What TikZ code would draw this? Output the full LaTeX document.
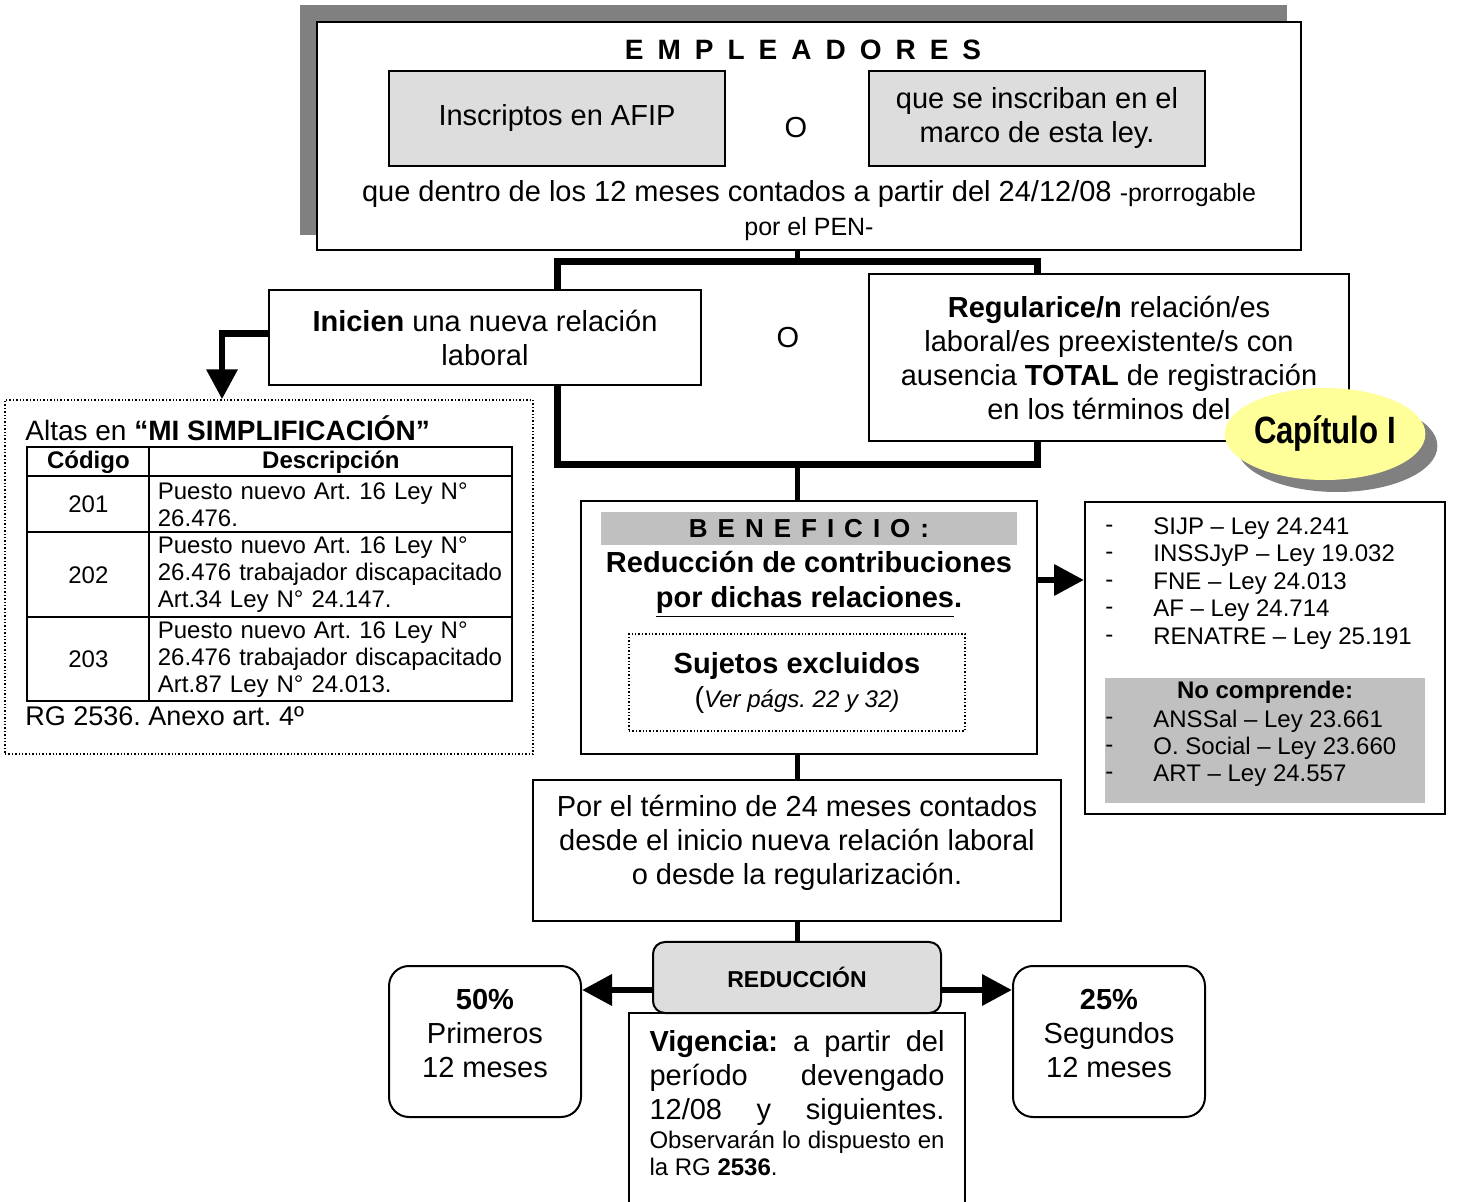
\documentclass[tikz,border=0pt]{standalone}
\usepackage{fontspec}
\setmainfont{Liberation Sans}
\newfontfamily\capfont[FakeStretch=0.82]{Liberation Sans}
\usetikzlibrary{arrows.meta,shapes.geometric,shadows,matrix}
\definecolor{grisclaro}{HTML}{DDDDDD}
\definecolor{grismedio}{HTML}{C0C0C0}
\definecolor{sombra}{HTML}{808080}
\definecolor{amarillo}{HTML}{FFFF99}
\frenchspacing

\begin{document}
\begin{tikzpicture}[x=0.5pt,y=-0.5pt,
	every node/.style={font=\fontsize{14.5}{17}\selectfont, inner sep=0pt},
	caja/.style={draw, line width=1pt, fill=white},
	gris/.style={caja, fill=grisclaro},
	punteado/.style={draw, densely dotted, line width=0.7pt},
	linea/.style={line width=2.5pt},
	flecha/.style={line width=3.3pt, -{Triangle[length=15pt,width=15pt]}},
	chica/.style={font=\fontsize{12}{13.5}\selectfont}]
\clip (0,0) rectangle (1457,1202);

\fill[sombra] (300,5) rectangle (1287,235);
\node[caja, minimum width=492pt, minimum height=114pt] (emp) at (809,136) {};
\node[font=\fontsize{14}{17}\selectfont\bfseries] (titulo) at (803,50) {\spaceskip=7pt E M P L E A D O R E S};
\node[gris, minimum width=168pt, minimum height=47.5pt] (afip) at (557,118.5) {Inscriptos en AFIP};
\node (o1) at (796,128) {O};
\node[gris, minimum width=168pt, minimum height=47.5pt, align=center] (nuevos) at (1037,118.5) {que se inscriban en el\\marco de esta ley.};
\node[align=center] (plazo) at (809,211) {que dentro de los 12 meses contados a partir del 24/12/08 {\fontsize{12.5}{15}\selectfont -prorrogable}\\{\fontsize{12.5}{15}\selectfont por el PEN-}};

\node[draw, line width=3.5pt, minimum width=239.75pt, minimum height=101.75pt] (alt) at (797.25,363.25) {};
\draw[linea] (emp.south -| alt.north) -- (alt.north);
\node[caja, minimum width=216pt, minimum height=47.5pt, align=center] (inicio) at (485,337.5) {\textbf{Inicien} una nueva relación\\laboral};
\node (o2) at (788,338) {O};
\node[caja, minimum width=240pt, minimum height=83.5pt, align=center] (regul) at (1109,357.5) {\textbf{Regularice/n} relación/es\\laboral/es preexistente/s con\\ausencia \textbf{TOTAL} de registración\\en los términos del};
\node[ellipse, fill=amarillo, minimum width=96pt, minimum height=46pt,
	drop shadow={shadow xshift=6pt, shadow yshift=-6pt, fill=sombra, opacity=1},
	font=\capfont\bfseries\fontsize{19}{19}\selectfont] (cap) at (1325,434) {Capítulo I};

\node[punteado, minimum width=264pt, minimum height=177pt] (altas) at (269,577) {};
\draw[flecha] ([yshift=2pt]inicio.west) -| ([xshift=-23.5pt]altas.north);
\node[anchor=west, font=\fontsize{14}{17}\selectfont] (altastit) at (25,428) {Altas en \textbf{“MI SIMPLIFICACIÓN”}};
\matrix (tabla) [matrix of nodes, anchor=north west, row sep=-1pt, column sep=-1pt,
	nodes={draw, line width=1pt, chica, anchor=center},
	column 1/.style={nodes={text width=61pt, align=center}},
	column 2/.style={nodes={text width=173pt, inner xsep=4.25pt, align=left}},
	row 1/.style={nodes={minimum height=14.5pt, font=\fontsize{12}{13.5}\selectfont\bfseries}},
	row 2/.style={nodes={minimum height=28pt}},
	row 3/.style={nodes={minimum height=42.5pt}},
	row 4/.style={nodes={minimum height=42pt}}] at (26,446)
{
	Código & |[align=center]| Descripción \\
	201 & Puesto nuevo Art. 16 Ley N° 26.476. \\
	202 & Puesto nuevo Art. 16 Ley N° 26.476 trabajador discapacitado Art.34 Ley N° 24.147. \\
	203 & Puesto nuevo Art. 16 Ley N° 26.476 trabajador discapacitado Art.87 Ley N° 24.013. \\
};
\node[anchor=west, font=\fontsize{13.5}{16}\selectfont] (rg) at (25,716) {RG 2536. Anexo art. 4º};

\node[caja, minimum width=228pt, minimum height=126.5pt] (benef) at (809,627.5) {};
\draw[linea] (alt.south) -- (alt.south |- benef.north);
\node[fill=grismedio, minimum width=208pt, minimum height=16.5pt, font=\fontsize{13}{15}\selectfont\bfseries] (benefit) at (809,528.5) {\spaceskip=5pt B E N E F I C I O :};
\node[align=center, font=\fontsize{14.5}{17.5}\selectfont\bfseries] (reduccion) at (809,584) {Reducción de contribuciones\\\underline{por dichas relaciones}.};
\node[punteado, minimum width=168pt, minimum height=48.5pt, align=center] (excl) at (797,682.5) {\textbf{Sujetos excluidos}\\(\fontsize{12}{17}\selectfont\textit{Ver págs. 22 y 32)}};

\node[caja, minimum width=180pt, minimum height=156pt] (leyes) at (1265,658) {};
\draw[flecha] ([yshift=23.75pt]benef.east) -- ([yshift=23.75pt]benef.east -| leyes.west);
\node[fill=grismedio, minimum width=160pt, minimum height=62.5pt] (nocomp) at (1265,740.5) {};
\foreach \ley [count=\i] in {SIJP – Ley 24.241, INSSJyP – Ley 19.032, FNE – Ley 24.013, AF – Ley 24.714, RENATRE – Ley 25.191}{
	\node[anchor=west, chica] (guion\i) at (1105,{501+27.5*\i}) {-};
	\node[anchor=west, chica] (ley\i) at (1153,{501+27.5*\i}) {\ley};
}
\node[font=\fontsize{12}{14}\selectfont\bfseries] (nocomptit) at (1265,692) {No comprende:};
\foreach \ley [count=\i] in {ANSSal – Ley 23.661, O. Social – Ley 23.660, ART – Ley 24.557}{
	\node[anchor=west, chica] (guionno\i) at (1105,{693.5+27.5*\i}) {-};
	\node[anchor=west, chica] (leyno\i) at (1153,{693.5+27.5*\i}) {\ley};
}

\node[caja, minimum width=264pt, minimum height=70.5pt] (termino) at (797,850.5) {};
\draw[linea] (termino.north |- benef.south) -- (termino.north);
\node[align=center] (terminotxt) at ([yshift=4pt]termino.center) {Por el término de 24 meses contados\\desde el inicio nueva relación laboral\\o desde la regularización.};

\node[caja, minimum width=168pt, minimum height=100pt] (vig) at (797,1113) {};
\node[text width=147.5pt, align=justify, anchor=north] (vigtxt) at (797,1030) {\tolerance=9999\parfillskip=0pt
	\textbf{Vigencia:} a partir del período devengado 12/08 y siguientes.\par\vspace{1pt}
	{\fontsize{12}{13.5}\selectfont\parfillskip=0pt plus 1fil Observarán lo dispuesto en la RG \textbf{2536}.\par}};
\node[gris, rounded corners=6pt, minimum width=144pt, minimum height=35.5pt, font=\fontsize{11.5}{14}\selectfont\bfseries] (reduc) at (797,977.5) {REDUCCIÓN};
\draw[linea] (termino.south) -- (reduc.north);

\node[caja, rounded corners=10pt, minimum width=96pt, minimum height=75.5pt] (p50) at (485,1041.5) {};
\node[align=center] (p50txt) at ([yshift=4pt]p50.center) {\textbf{50\%}\\Primeros\\12 meses};
\node[caja, rounded corners=10pt, minimum width=96pt, minimum height=75.5pt] (p25) at (1109,1041.5) {};
\node[align=center] (p25txt) at ([yshift=4pt]p25.center) {\textbf{25\%}\\Segundos\\12 meses};
\draw[flecha] ([yshift=-6.25pt]reduc.west) -- ([yshift=-6.25pt]reduc.west -| p50.east);
\draw[flecha] ([yshift=-6.25pt]reduc.east) -- ([yshift=-6.25pt]reduc.east -| p25.west);
\end{tikzpicture}
\end{document}
